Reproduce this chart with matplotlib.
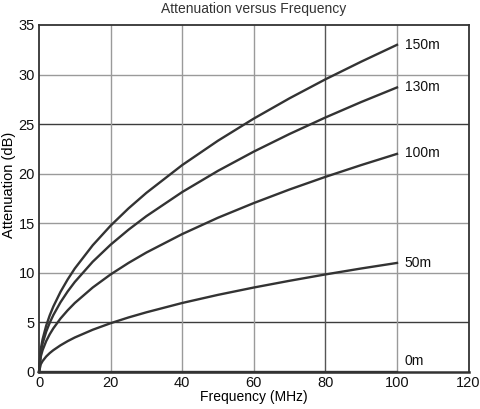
import numpy as np
import matplotlib
matplotlib.use('Agg')
import matplotlib.pyplot as plt

plt.rcParams['font.family'] = ['Liberation Sans', 'DejaVu Sans']

# values
freq = [0, 0.5, 1, 2, 3, 4, 6, 8, 10, 15, 20, 25, 30, 40, 50, 60, 70, 80, 90, 100]
att_150m = [0, 2.33, 3.3, 4.67, 5.72, 6.6, 8.08, 9.33, 10.44, 12.78, 14.76, 16.5, 18.07, 20.87, 23.33, 25.56, 27.61, 29.52, 31.3, 33.0]
att_130m = [0, 2.03, 2.87, 4.06, 4.97, 5.74, 7.03, 8.12, 9.08, 11.12, 12.84, 14.35, 15.72, 18.15, 20.29, 22.23, 24.01, 25.67, 27.23, 28.7]
att_100m = [0, 1.56, 2.2, 3.11, 3.81, 4.4, 5.39, 6.22, 6.96, 8.52, 9.84, 11.0, 12.05, 13.91, 15.56, 17.04, 18.41, 19.68, 20.87, 22.0]
att_50m = [0, 0.78, 1.1, 1.56, 1.91, 2.2, 2.69, 3.11, 3.48, 4.26, 4.92, 5.5, 6.02, 6.96, 7.78, 8.52, 9.2, 9.84, 10.44, 11.0]
att_0m = [0] * len(freq)

series = [att_150m, att_130m, att_100m, att_50m, att_0m]
labels = ['150m', '130m', '100m', '50m', '0m']
label_y = [33.0, 28.7, 22.1, 11.0, 1.1]

line_col = '#333333'

fig = plt.figure(figsize=(4.81, 4.09), dpi=100)
ax = fig.add_axes([0.0811, 0.0905, 0.8931, 0.8484])

# grid
for y in range(5, 35, 5):
    c = '#3c3c3c' if y in (5, 25) else '#9a9a9a'
    ax.axhline(y, color=c, lw=1.0, zorder=1)
for x in range(20, 120, 20):
    c = '#555555' if x == 80 else '#9a9a9a'
    ax.axvline(x, color=c, lw=1.0, zorder=1)

for vals, lab, ly in zip(series, labels, label_y):
    ax.plot(freq, vals, color=line_col, lw=1.7, zorder=3, clip_on=False)
    ax.text(102.2, ly, lab, fontsize=10, va='center', ha='left', color='#111111')

ax.set_xlim(0, 120)
ax.set_ylim(0, 35)
ax.set_xticks(range(0, 121, 20))
ax.set_yticks(range(0, 36, 5))
ax.tick_params(length=0, labelsize=10.5, pad=3, colors='#111111')
for s in ax.spines.values():
    s.set_color('#333333')
    s.set_linewidth(1.3)
ax.spines['bottom'].set_linewidth(1.8)

ax.set_xlabel('Frequency (MHz)', fontsize=10, labelpad=0)
ax.set_ylabel('Attenuation (dB)', fontsize=10.5, labelpad=2)
ax.yaxis.set_label_coords(-0.054, 0.539)
ax.set_title('Attenuation versus Frequency', fontsize=10, color='#333333', pad=8.5)

fig.savefig('out.png', dpi=100)
